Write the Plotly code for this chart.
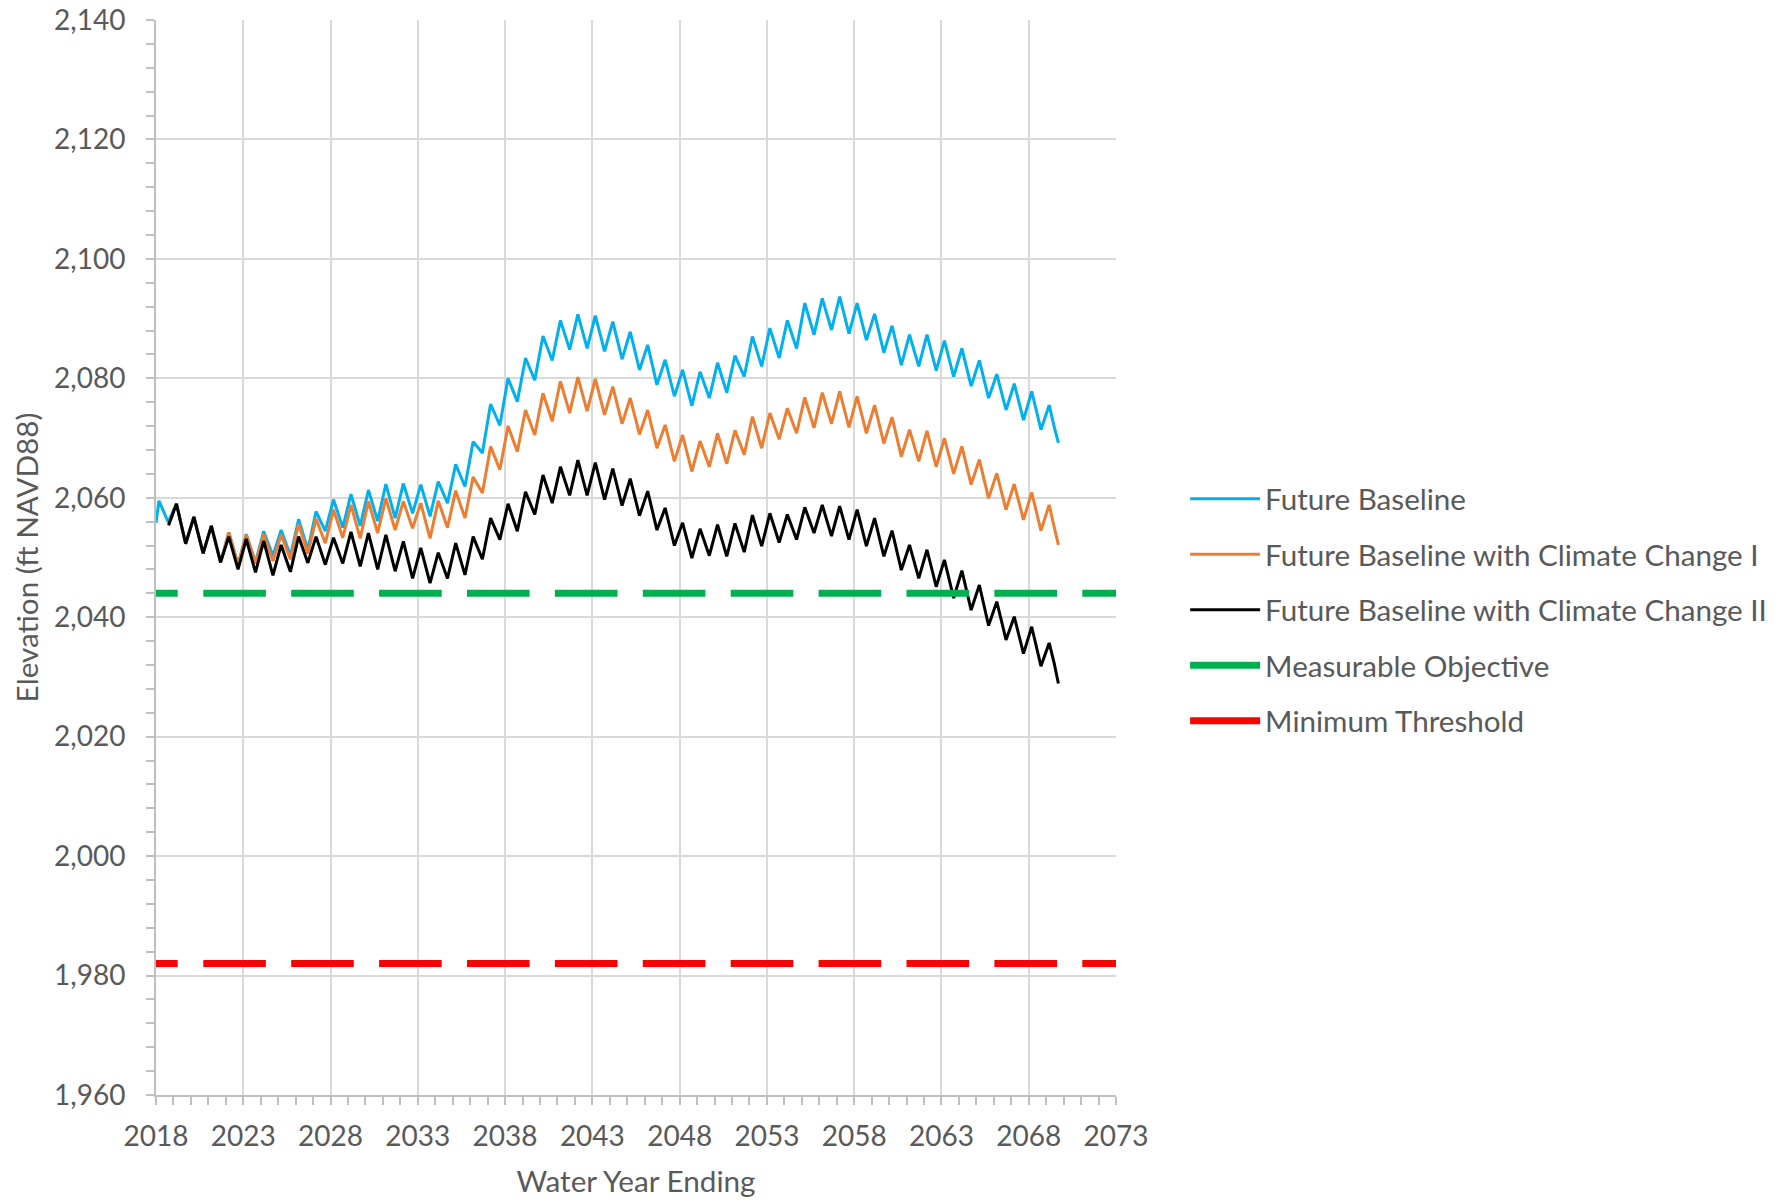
import plotly.graph_objects as go

# ---------------- data ----------------
# Annual high (~March) and low (~September) elevations, ft NAVD88
fb_start = [2018.0, 2055.8]
fb_peaks = [2059.5, 2059.0, 2056.8, 2055.3, 2054.2, 2053.9, 2054.4, 2054.6, 2056.4, 2057.7,
            2059.7, 2060.6, 2061.3, 2062.3, 2062.4, 2062.2, 2062.7, 2065.6, 2069.4, 2075.7,
            2080.0, 2083.4, 2087.1, 2089.7, 2090.7, 2090.5, 2089.5, 2087.8, 2085.6, 2083.1,
            2081.4, 2081.1, 2082.6, 2083.8, 2087.0, 2088.4, 2089.7, 2092.6, 2093.4, 2093.7,
            2092.6, 2090.8, 2088.8, 2087.3, 2087.3, 2086.3, 2085.0, 2083.0, 2080.7, 2079.1,
            2077.8, 2075.5]                      # 2018..2069
fb_troughs = [2055.9, 2052.3, 2050.7, 2049.2, 2048.8, 2049.2, 2050.3, 2050.3, 2051.3, 2054.4,
              2055.0, 2055.3, 2056.1, 2056.6, 2057.4, 2056.9, 2059.1, 2061.9, 2067.5, 2072.1,
              2076.1, 2079.7, 2083.0, 2084.8, 2085.0, 2084.5, 2083.2, 2081.4, 2078.9, 2077.0,
              2075.4, 2076.7, 2077.6, 2080.3, 2082.0, 2083.4, 2085.0, 2087.3, 2088.1, 2087.5,
              2086.4, 2084.3, 2082.2, 2082.0, 2081.3, 2080.3, 2078.7, 2076.7, 2074.7, 2073.0,
              2071.4]                            # 2018..2068
fb_end = [[2069.45, 2072.0], [2069.7, 2069.2]]

cc1_start = [2018.72, 2055.4]
cc1_peaks = [2059.0, 2056.8, 2055.3, 2054.2, 2053.8, 2053.9, 2053.8, 2055.6, 2056.5, 2058.0,
             2058.8, 2059.4, 2059.9, 2059.4, 2059.1, 2059.5, 2061.2, 2063.5, 2068.6, 2072.0,
             2074.7, 2077.5, 2079.5, 2080.2, 2079.9, 2078.6, 2076.7, 2074.7, 2072.2, 2070.5,
             2069.5, 2070.8, 2071.3, 2073.6, 2074.2, 2075.0, 2076.8, 2077.6, 2077.8, 2077.0,
             2075.5, 2073.5, 2071.4, 2071.2, 2070.0, 2068.6, 2066.4, 2064.1, 2062.3, 2060.9,
             2058.8]                             # 2019..2069
cc1_troughs = [2052.3, 2050.7, 2049.2, 2048.8, 2049.0, 2049.4, 2049.7, 2050.6, 2052.4, 2053.3,
               2053.2, 2054.1, 2054.6, 2054.9, 2053.2, 2055.0, 2056.6, 2060.8, 2064.7, 2067.7,
               2070.5, 2072.8, 2074.2, 2074.5, 2073.9, 2072.4, 2070.6, 2068.3, 2066.1, 2064.4,
               2065.2, 2065.7, 2067.2, 2068.3, 2069.8, 2070.8, 2071.7, 2072.4, 2071.8, 2070.8,
               2069.1, 2066.9, 2066.1, 2065.2, 2064.0, 2062.2, 2059.9, 2058.0, 2056.3, 2054.5]  # 2019..2068
cc1_end = [[2069.45, 2055.2], [2069.7, 2052.1]]

cc2_start = [2018.72, 2055.4]
cc2_peaks = [2059.0, 2056.8, 2055.3, 2053.5, 2053.1, 2052.8, 2052.1, 2053.5, 2053.5, 2053.3,
             2054.3, 2054.1, 2053.8, 2052.7, 2051.6, 2050.8, 2052.4, 2053.5, 2056.6, 2059.0,
             2061.0, 2063.8, 2065.2, 2066.3, 2065.9, 2064.9, 2063.2, 2061.1, 2058.3, 2055.8,
             2054.8, 2055.5, 2055.7, 2057.1, 2057.4, 2057.2, 2058.4, 2058.8, 2058.6, 2058.0,
             2056.6, 2054.5, 2052.1, 2051.3, 2049.6, 2047.8, 2045.4, 2042.6, 2040.1, 2038.4,
             2035.7]                             # 2019..2069
cc2_troughs = [2052.3, 2050.7, 2049.2, 2048.0, 2047.5, 2047.0, 2047.6, 2049.1, 2048.8, 2049.0,
               2048.5, 2048.0, 2047.7, 2046.5, 2045.7, 2046.5, 2047.1, 2049.7, 2053.0, 2054.4,
               2057.2, 2059.1, 2060.4, 2060.4, 2059.7, 2058.7, 2057.0, 2054.6, 2052.0, 2049.9,
               2050.3, 2050.2, 2050.9, 2051.9, 2052.5, 2053.0, 2054.1, 2053.6, 2053.0, 2051.9,
               2050.2, 2047.9, 2046.5, 2045.1, 2043.2, 2041.2, 2038.6, 2036.2, 2033.9, 2031.8]  # 2019..2068
cc2_end = [[2069.45, 2032.4], [2069.7, 2028.9]]

measurable_objective = 2044
minimum_threshold = 1982
threshold_years = [2018, 2073]

x_ticks = [2018, 2023, 2028, 2033, 2038, 2043, 2048, 2053, 2058, 2063, 2068, 2073]
names = ["Future Baseline", "Future Baseline with Climate Change I",
         "Future Baseline with Climate Change II", "Measurable Objective", "Minimum Threshold"]

PEAK_MONTH = 0.17    # ~ March
LOW_MONTH = 0.70     # ~ September


def build(start, first_year, peaks, troughs, end):
    xs, ys = [start[0]], [start[1]]
    for i, p in enumerate(peaks):
        yr = first_year + i
        xs.append(yr + PEAK_MONTH)
        ys.append(p)
        if i < len(troughs):
            xs.append(yr + LOW_MONTH)
            ys.append(troughs[i])
    for e in end:
        xs.append(e[0])
        ys.append(e[1])
    return xs, ys


fb_x, fb_y = build(fb_start, 2018, fb_peaks, fb_troughs, fb_end)
c1_x, c1_y = build(cc1_start, 2019, cc1_peaks, cc1_troughs, cc1_end)
c2_x, c2_y = build(cc2_start, 2019, cc2_peaks, cc2_troughs, cc2_end)

FONT = "Lato"
GREY = "#595959"
dash_pattern = "21.7px,25.6px," + ",".join(["62.6px,25.3px"] * 12)

fig = go.Figure()
fig.add_trace(go.Scatter(x=fb_x, y=fb_y, mode="lines", name=names[0], legendgroup="g0",
                         line=dict(color="#00B0F0", width=3)))
fig.add_trace(go.Scatter(x=c1_x, y=c1_y, mode="lines", name=names[1], legendgroup="g1",
                         line=dict(color="#ED7D31", width=3)))
fig.add_trace(go.Scatter(x=c2_x, y=c2_y, mode="lines", name=names[2], legendgroup="g2",
                         line=dict(color="#000000", width=3)))
fig.add_trace(go.Scatter(x=threshold_years, y=[measurable_objective] * 2, mode="lines",
                         name=names[3], legendgroup="g3", showlegend=False,
                         line=dict(color="#00B050", width=7, dash=dash_pattern)))
fig.add_trace(go.Scatter(x=threshold_years, y=[minimum_threshold] * 2, mode="lines",
                         name=names[4], legendgroup="g4", showlegend=False,
                         line=dict(color="#FF0000", width=7, dash=dash_pattern)))
# legend entries for the thresholds (solid key, as in the original legend)
fig.add_trace(go.Scatter(x=[None], y=[None], mode="lines", name=names[3], legendgroup="g3",
                         line=dict(color="#00B050", width=7)))
fig.add_trace(go.Scatter(x=[None], y=[None], mode="lines", name=names[4], legendgroup="g4",
                         line=dict(color="#FF0000", width=7)))

axis_common = dict(
    showgrid=True, gridcolor="#d9d9d9", gridwidth=2,
    showline=True, linecolor="#bfbfbf", linewidth=2,
    ticks="outside", ticklen=8, tickwidth=2, tickcolor="#bfbfbf",
    tickfont=dict(family=FONT, size=28, color=GREY),
    zeroline=False, automargin=False,
)

fig.update_layout(
    width=1788, height=1201,
    margin=dict(l=156, r=672, t=20, b=106, pad=0),
    paper_bgcolor="white", plot_bgcolor="white",
    font=dict(family=FONT, size=28, color=GREY),
    showlegend=True,
    legend=dict(x=1.072, xanchor="left", y=0.5785, yanchor="top",
                font=dict(family=FONT, size=29.6, color=GREY),
                traceorder="grouped", itemwidth=70, tracegroupgap=14,
                bgcolor="rgba(0,0,0,0)"),
    xaxis=dict(range=[2018, 2073], tickmode="array", tickvals=x_ticks,
               ticktext=[str(v) for v in x_ticks],
               minor=dict(dtick=1, tick0=2018, ticks="outside", ticklen=8, tickwidth=2,
                          tickcolor="#bfbfbf", showgrid=False),
               ticklabelstandoff=7,
               title=dict(text="Water Year Ending", font=dict(family=FONT, size=29.7, color=GREY),
                          standoff=21),
               **axis_common),
    yaxis=dict(range=[1960, 2140], dtick=20, tick0=1960, tickformat=",d",
               minor=dict(dtick=4, tick0=1960, ticks="outside", ticklen=8, tickwidth=2,
                          tickcolor="#bfbfbf", showgrid=False),
               ticklabelstandoff=15,
               title=dict(text="Elevation (ft NAVD88)", font=dict(family=FONT, size=29.7, color=GREY),
                          standoff=7),
               **axis_common),
)

fig.write_html("out.html", config={"displayModeBar": False},
               post_script="document.body.style.margin='0';")
